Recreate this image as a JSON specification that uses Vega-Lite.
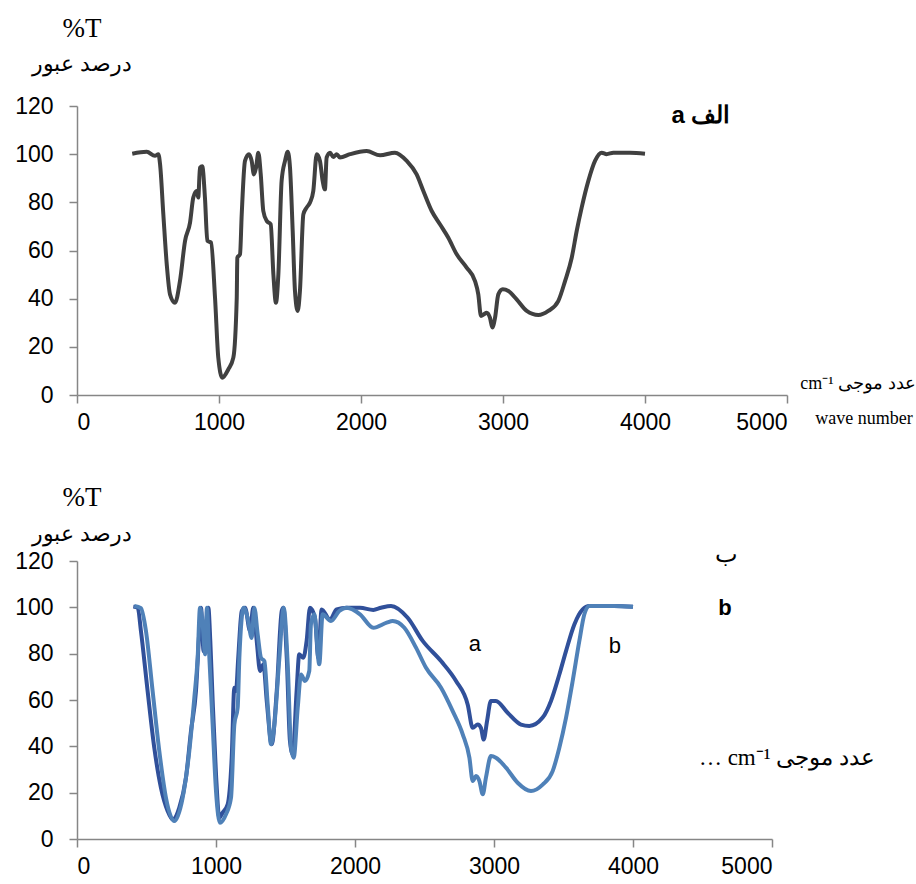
{
  "$schema": "https://vega.github.io/schema/vega-lite/v6.json",
  "padding": {"left": 14, "top": 15, "right": 0, "bottom": 0},
  "background": "white",
  "datasets": {
    "top": [
      {"wavenumber":389,"T":100.2},{"wavenumber":491,"T":101},{"wavenumber":549,"T":99.3},{"wavenumber":573,"T":100},{"wavenumber":585,"T":95.8},{"wavenumber":608,"T":75},{"wavenumber":632,"T":54.3},{"wavenumber":655,"T":41.8},{"wavenumber":690,"T":38.3},{"wavenumber":725,"T":47.3},{"wavenumber":761,"T":64},{"wavenumber":796,"T":71.6},{"wavenumber":819,"T":82},{"wavenumber":843,"T":84.7},{"wavenumber":854,"T":82},{"wavenumber":866,"T":94.4},{"wavenumber":882,"T":95},{"wavenumber":901,"T":82},{"wavenumber":918,"T":64},{"wavenumber":944,"T":63.3},{"wavenumber":972,"T":40.4},{"wavenumber":995,"T":15.5},{"wavenumber":1023,"T":7.2},{"wavenumber":1066,"T":10.7},{"wavenumber":1101,"T":15.5},{"wavenumber":1125,"T":40.4},{"wavenumber":1129,"T":57},{"wavenumber":1148,"T":58.4},{"wavenumber":1160,"T":75},{"wavenumber":1183,"T":97.2},{"wavenumber":1211,"T":100},{"wavenumber":1230,"T":97.2},{"wavenumber":1246,"T":91.6},{"wavenumber":1261,"T":94.4},{"wavenumber":1277,"T":100.6},{"wavenumber":1294,"T":91.6},{"wavenumber":1312,"T":76.4},{"wavenumber":1336,"T":72.3},{"wavenumber":1364,"T":70.9},{"wavenumber":1383,"T":50.1},{"wavenumber":1401,"T":38.3},{"wavenumber":1418,"T":50.1},{"wavenumber":1441,"T":88.9},{"wavenumber":1465,"T":97.2},{"wavenumber":1484,"T":101},{"wavenumber":1500,"T":94.4},{"wavenumber":1519,"T":68.1},{"wavenumber":1535,"T":43.2},{"wavenumber":1554,"T":34.9},{"wavenumber":1570,"T":43.2},{"wavenumber":1594,"T":75},{"wavenumber":1617,"T":77.8},{"wavenumber":1641,"T":79.9},{"wavenumber":1664,"T":84.7},{"wavenumber":1688,"T":100},{"wavenumber":1711,"T":97.2},{"wavenumber":1730,"T":88.9},{"wavenumber":1746,"T":85.4},{"wavenumber":1758,"T":98.6},{"wavenumber":1782,"T":100.6},{"wavenumber":1805,"T":98.8},{"wavenumber":1829,"T":100},{"wavenumber":1852,"T":98.6},{"wavenumber":1923,"T":100},{"wavenumber":2040,"T":101.3},{"wavenumber":2134,"T":99.5},{"wavenumber":2239,"T":100.6},{"wavenumber":2322,"T":97.2},{"wavenumber":2392,"T":91.6},{"wavenumber":2439,"T":84.7},{"wavenumber":2498,"T":76.4},{"wavenumber":2556,"T":70.9},{"wavenumber":2615,"T":65.3},{"wavenumber":2674,"T":58.4},{"wavenumber":2744,"T":52.9},{"wavenumber":2803,"T":47.3},{"wavenumber":2826,"T":41.8},{"wavenumber":2845,"T":32.8},{"wavenumber":2866,"T":33.5},{"wavenumber":2885,"T":34.2},{"wavenumber":2908,"T":32.1},{"wavenumber":2925,"T":28},{"wavenumber":2944,"T":32.1},{"wavenumber":2967,"T":41.8},{"wavenumber":2998,"T":43.9},{"wavenumber":3038,"T":43.2},{"wavenumber":3096,"T":39.7},{"wavenumber":3167,"T":34.9},{"wavenumber":3249,"T":33.2},{"wavenumber":3319,"T":34.9},{"wavenumber":3389,"T":39},{"wavenumber":3437,"T":47.3},{"wavenumber":3484,"T":57},{"wavenumber":3519,"T":68.1},{"wavenumber":3554,"T":77.8},{"wavenumber":3601,"T":88.9},{"wavenumber":3648,"T":97.2},{"wavenumber":3695,"T":100.6},{"wavenumber":3730,"T":100},{"wavenumber":3777,"T":100.6},{"wavenumber":3894,"T":100.6},{"wavenumber":4000,"T":100.2}
    ],
    "bottom": [
      {"sample":"a","wavenumber":405,"T":100.3},{"sample":"a","wavenumber":437,"T":99.8},{"sample":"a","wavenumber":460,"T":89.8},{"sample":"a","wavenumber":508,"T":63.9},{"sample":"a","wavenumber":556,"T":39.4},{"sample":"a","wavenumber":604,"T":22.1},{"sample":"a","wavenumber":652,"T":12.1},{"sample":"a","wavenumber":688,"T":8.4},{"sample":"a","wavenumber":736,"T":13.5},{"sample":"a","wavenumber":784,"T":26.5},{"sample":"a","wavenumber":820,"T":46.6},{"sample":"a","wavenumber":856,"T":63.9},{"sample":"a","wavenumber":880,"T":89.8},{"sample":"a","wavenumber":892,"T":99.8},{"sample":"a","wavenumber":911,"T":81.1},{"sample":"a","wavenumber":928,"T":92.6},{"sample":"a","wavenumber":945,"T":99.8},{"sample":"a","wavenumber":959,"T":85.5},{"sample":"a","wavenumber":976,"T":59.6},{"sample":"a","wavenumber":1000,"T":27.9},{"sample":"a","wavenumber":1024,"T":9.2},{"sample":"a","wavenumber":1048,"T":11.4},{"sample":"a","wavenumber":1084,"T":15},{"sample":"a","wavenumber":1113,"T":35.1},{"sample":"a","wavenumber":1132,"T":65.3},{"sample":"a","wavenumber":1144,"T":63.9},{"sample":"a","wavenumber":1160,"T":78.2},{"sample":"a","wavenumber":1185,"T":98.4},{"sample":"a","wavenumber":1209,"T":99.8},{"sample":"a","wavenumber":1245,"T":89.8},{"sample":"a","wavenumber":1268,"T":99.8},{"sample":"a","wavenumber":1293,"T":85.5},{"sample":"a","wavenumber":1317,"T":72.5},{"sample":"a","wavenumber":1341,"T":75.4},{"sample":"a","wavenumber":1365,"T":59.6},{"sample":"a","wavenumber":1401,"T":40.9},{"sample":"a","wavenumber":1437,"T":63.9},{"sample":"a","wavenumber":1473,"T":98.4},{"sample":"a","wavenumber":1484,"T":99.8},{"sample":"a","wavenumber":1509,"T":78.2},{"sample":"a","wavenumber":1532,"T":42.3},{"sample":"a","wavenumber":1552,"T":36.6},{"sample":"a","wavenumber":1580,"T":63.9},{"sample":"a","wavenumber":1599,"T":79.7},{"sample":"a","wavenumber":1628,"T":78.2},{"sample":"a","wavenumber":1652,"T":85.5},{"sample":"a","wavenumber":1676,"T":99.8},{"sample":"a","wavenumber":1712,"T":95.4},{"sample":"a","wavenumber":1736,"T":78.2},{"sample":"a","wavenumber":1760,"T":99.1},{"sample":"a","wavenumber":1820,"T":94.7},{"sample":"a","wavenumber":1868,"T":99.1},{"sample":"a","wavenumber":1941,"T":99.8},{"sample":"a","wavenumber":2036,"T":99.8},{"sample":"a","wavenumber":2132,"T":98.9},{"sample":"a","wavenumber":2187,"T":99.8},{"sample":"a","wavenumber":2259,"T":100.6},{"sample":"a","wavenumber":2379,"T":95.5},{"sample":"a","wavenumber":2487,"T":85.5},{"sample":"a","wavenumber":2619,"T":76.8},{"sample":"a","wavenumber":2727,"T":68.2},{"sample":"a","wavenumber":2811,"T":58},{"sample":"a","wavenumber":2847,"T":48},{"sample":"a","wavenumber":2883,"T":49.4},{"sample":"a","wavenumber":2906,"T":48},{"sample":"a","wavenumber":2926,"T":42.9},{"sample":"a","wavenumber":2950,"T":50.9},{"sample":"a","wavenumber":2978,"T":59.6},{"sample":"a","wavenumber":3014,"T":59.6},{"sample":"a","wavenumber":3098,"T":54.5},{"sample":"a","wavenumber":3194,"T":49.4},{"sample":"a","wavenumber":3254,"T":48.8},{"sample":"a","wavenumber":3350,"T":52.4},{"sample":"a","wavenumber":3410,"T":59.6},{"sample":"a","wavenumber":3470,"T":71},{"sample":"a","wavenumber":3518,"T":81.1},{"sample":"a","wavenumber":3578,"T":92.6},{"sample":"a","wavenumber":3638,"T":99.1},{"sample":"a","wavenumber":3686,"T":100.6},{"sample":"a","wavenumber":3865,"T":100.6},{"sample":"a","wavenumber":4000,"T":100.2},
      {"sample":"b","wavenumber":412,"T":100.6},{"sample":"b","wavenumber":460,"T":99.6},{"sample":"b","wavenumber":496,"T":89.8},{"sample":"b","wavenumber":544,"T":63.9},{"sample":"b","wavenumber":592,"T":38},{"sample":"b","wavenumber":640,"T":17.8},{"sample":"b","wavenumber":700,"T":7.8},{"sample":"b","wavenumber":760,"T":17.8},{"sample":"b","wavenumber":808,"T":38},{"sample":"b","wavenumber":844,"T":60.9},{"sample":"b","wavenumber":868,"T":78.2},{"sample":"b","wavenumber":885,"T":99.8},{"sample":"b","wavenumber":904,"T":92.6},{"sample":"b","wavenumber":921,"T":79.7},{"sample":"b","wavenumber":935,"T":99.8},{"sample":"b","wavenumber":950,"T":81.1},{"sample":"b","wavenumber":976,"T":49.4},{"sample":"b","wavenumber":1000,"T":20.7},{"sample":"b","wavenumber":1029,"T":7},{"sample":"b","wavenumber":1072,"T":10.7},{"sample":"b","wavenumber":1108,"T":17.8},{"sample":"b","wavenumber":1132,"T":49.4},{"sample":"b","wavenumber":1156,"T":56.7},{"sample":"b","wavenumber":1168,"T":78.2},{"sample":"b","wavenumber":1199,"T":99.8},{"sample":"b","wavenumber":1228,"T":95.4},{"sample":"b","wavenumber":1257,"T":86.8},{"sample":"b","wavenumber":1276,"T":99.8},{"sample":"b","wavenumber":1300,"T":88.3},{"sample":"b","wavenumber":1324,"T":78.2},{"sample":"b","wavenumber":1348,"T":76.8},{"sample":"b","wavenumber":1372,"T":58},{"sample":"b","wavenumber":1396,"T":40.9},{"sample":"b","wavenumber":1420,"T":49.4},{"sample":"b","wavenumber":1456,"T":78.2},{"sample":"b","wavenumber":1487,"T":99.8},{"sample":"b","wavenumber":1516,"T":75.4},{"sample":"b","wavenumber":1540,"T":39.4},{"sample":"b","wavenumber":1559,"T":35.1},{"sample":"b","wavenumber":1588,"T":56.7},{"sample":"b","wavenumber":1612,"T":71},{"sample":"b","wavenumber":1640,"T":68.2},{"sample":"b","wavenumber":1671,"T":72.5},{"sample":"b","wavenumber":1683,"T":92.6},{"sample":"b","wavenumber":1707,"T":97},{"sample":"b","wavenumber":1743,"T":75.4},{"sample":"b","wavenumber":1767,"T":97},{"sample":"b","wavenumber":1827,"T":94.1},{"sample":"b","wavenumber":1887,"T":98.4},{"sample":"b","wavenumber":1941,"T":99.8},{"sample":"b","wavenumber":2036,"T":97},{"sample":"b","wavenumber":2132,"T":91.2},{"sample":"b","wavenumber":2228,"T":93.4},{"sample":"b","wavenumber":2271,"T":94.1},{"sample":"b","wavenumber":2355,"T":91.2},{"sample":"b","wavenumber":2439,"T":82.6},{"sample":"b","wavenumber":2511,"T":73.9},{"sample":"b","wavenumber":2619,"T":65.3},{"sample":"b","wavenumber":2703,"T":55.2},{"sample":"b","wavenumber":2775,"T":45.2},{"sample":"b","wavenumber":2823,"T":35.1},{"sample":"b","wavenumber":2847,"T":25},{"sample":"b","wavenumber":2871,"T":27.2},{"sample":"b","wavenumber":2895,"T":25},{"sample":"b","wavenumber":2919,"T":19.3},{"sample":"b","wavenumber":2942,"T":26.5},{"sample":"b","wavenumber":2978,"T":35.8},{"sample":"b","wavenumber":3014,"T":35.1},{"sample":"b","wavenumber":3086,"T":30.8},{"sample":"b","wavenumber":3170,"T":24.3},{"sample":"b","wavenumber":3266,"T":20.7},{"sample":"b","wavenumber":3350,"T":23.5},{"sample":"b","wavenumber":3422,"T":29.3},{"sample":"b","wavenumber":3470,"T":39.4},{"sample":"b","wavenumber":3518,"T":52.3},{"sample":"b","wavenumber":3566,"T":68.2},{"sample":"b","wavenumber":3614,"T":85.5},{"sample":"b","wavenumber":3650,"T":97},{"sample":"b","wavenumber":3686,"T":100.6},{"sample":"b","wavenumber":3865,"T":100.6},{"sample":"b","wavenumber":4000,"T":100.2}
    ],
    "topBold": [{"label":"a الف","wavenumber":4394,"T":116}],
    "topSerif": [{"label":"cm⁻¹ عدد موجی","wavenumber":5500,"T":4.6},{"label":"wave number","wavenumber":5542,"T":-10}],
    "botArabic": [{"label":"ب","wavenumber":4675,"T":122.5}],
    "botBold": [{"label":"b","wavenumber":4662,"T":99.7}],
    "botPlain": [{"label":"a","wavenumber":2863,"T":84.2},{"label":"b","wavenumber":3870,"T":83.3}],
    "botSerif": [{"label":"…  cm⁻¹ عدد موجی","wavenumber":5108,"T":35}]
  },
  "vconcat": [
    {
      "width": 710,
      "height": 289,
      "title": {"text": "%T", "subtitle": "درصد عبور", "anchor": "start", "frame": "group", "align": "center", "dx": 5, "offset": 19, "font": "Liberation Serif", "fontSize": 27, "fontWeight": "normal", "color": "#000", "subtitleFont": "Liberation Serif", "subtitleFontSize": 22, "subtitleColor": "#000", "subtitlePadding": 11},
      "encoding": {
        "x": {"field": "wavenumber", "type": "quantitative", "scale": {"domain": [0, 5000], "nice": false}, "axis": {"values": [0,1000,2000,3000,4000,5000], "format": "d", "title": null}},
        "y": {"field": "T", "type": "quantitative", "scale": {"domain": [0, 120], "nice": false}, "axis": {"values": [0,20,40,60,80,100,120], "format": "d", "title": null}}
      },
      "layer": [
        {"data": {"name": "top"}, "mark": {"type": "line", "color": "#404040", "strokeWidth": 4, "interpolate": "monotone"}},
        {"data": {"name": "topBold"}, "mark": {"type": "text", "font": "Liberation Sans", "fontSize": 24, "fontWeight": "bold", "color": "#000"}, "encoding": {"text": {"field": "label"}}},
        {"data": {"name": "topSerif"}, "mark": {"type": "text", "font": "Liberation Serif", "fontSize": 18, "color": "#000"}, "encoding": {"text": {"field": "label"}}}
      ]
    },
    {
      "width": 695,
      "height": 278,
      "title": {"text": "%T", "subtitle": "درصد عبور", "anchor": "start", "frame": "group", "align": "center", "dx": 5, "offset": -3, "font": "Liberation Serif", "fontSize": 27, "fontWeight": "normal", "color": "#000", "subtitleFont": "Liberation Serif", "subtitleFontSize": 22, "subtitleColor": "#000", "subtitlePadding": 12},
      "encoding": {
        "x": {"field": "wavenumber", "type": "quantitative", "scale": {"domain": [0, 5000], "nice": false}, "axis": {"values": [0,1000,2000,3000,4000,5000], "format": "d", "title": null}},
        "y": {"field": "T", "type": "quantitative", "scale": {"domain": [0, 120], "nice": false}, "axis": {"values": [0,20,40,60,80,100,120], "format": "d", "title": null}}
      },
      "layer": [
        {"data": {"name": "bottom"}, "mark": {"type": "line", "strokeWidth": 4, "interpolate": "monotone"}, "encoding": {"color": {"field": "sample", "type": "nominal", "scale": {"domain": ["a", "b"], "range": ["#30509a", "#4f81b8"]}, "legend": null}}},
        {"data": {"name": "botArabic"}, "mark": {"type": "text", "font": "Liberation Serif", "fontSize": 24, "color": "#000"}, "encoding": {"text": {"field": "label"}}},
        {"data": {"name": "botBold"}, "mark": {"type": "text", "font": "Liberation Sans", "fontSize": 22, "fontWeight": "bold", "color": "#000"}, "encoding": {"text": {"field": "label"}}},
        {"data": {"name": "botPlain"}, "mark": {"type": "text", "font": "Liberation Sans", "fontSize": 22, "color": "#000"}, "encoding": {"text": {"field": "label"}}},
        {"data": {"name": "botSerif"}, "mark": {"type": "text", "font": "Liberation Serif", "fontSize": 23, "color": "#000"}, "encoding": {"text": {"field": "label"}}}
      ]
    }
  ],
  "spacing": 166,
  "bounds": "flush",
  "config": {
    "view": {"stroke": null},
    "axis": {"grid": false, "domainColor": "#868686", "tickColor": "#868686", "domainWidth": 1.5, "tickWidth": 1.5, "tickSize": 8, "labelFont": "Liberation Sans", "labelFontSize": 23, "labelColor": "#000"},
    "axisY": {"labelPadding": 16},
    "axisX": {"labelPadding": 8}
  }
}
